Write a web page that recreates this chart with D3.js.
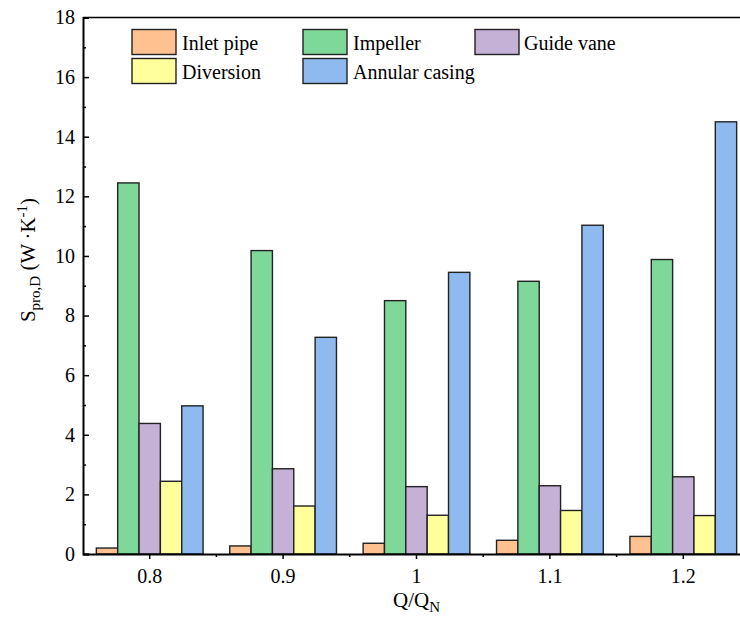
<!DOCTYPE html>
<html>
<head>
<meta charset="utf-8">
<script src="https://cdn.jsdelivr.net/npm/d3@7/dist/d3.min.js"></script>
<style>
  html, body { margin: 0; padding: 0; background: #fff; }
  svg { display: block; font-family: "Liberation Serif", "Times New Roman", serif; }
</style>
</head>
<body>
<svg id="chart" width="740" height="619"></svg>
<script>
// ---- data ----
const categories = ["0.8", "0.9", "1", "1.1", "1.2"];
const seriesNames = ["Inlet pipe", "Impeller", "Guide vane", "Diversion", "Annular casing"];
const inletPipe     = [0.20, 0.27, 0.36, 0.46, 0.59];
const impeller      = [12.45, 10.18, 8.50, 9.15, 9.88];
const guideVane     = [4.38, 2.86, 2.26, 2.29, 2.59];
const diversion     = [2.44, 1.61, 1.30, 1.46, 1.29];
const annularCasing = [4.97, 7.27, 9.45, 11.03, 14.50];
const seriesColors  = ["#FEC18F", "#7DD899", "#C5B0D6", "#FFFF9B", "#8EBAEF"];
const yTicks = [0, 2, 4, 6, 8, 10, 12, 14, 16, 18];
const yMinorTicks = [1, 3, 5, 7, 9, 11, 13, 15, 17];

const seriesValues = [inletPipe, impeller, guideVane, diversion, annularCasing];

// ---- layout ----
const svg = d3.select("#chart");
const pL = 83, pR = 750, pT = 17.5, pB = 554;

const x = d3.scaleBand().domain(categories).range([pL, pR]).paddingInner(0).paddingOuter(0);
const groupW = x.bandwidth() * 0.8;
const xs = d3.scaleBand().domain(seriesNames).range([0, groupW]).padding(0);
const y = d3.scaleLinear().domain([0, 18]).range([pB, pT]);

// bars
const g = svg.append("g");
seriesNames.forEach((name, si) => {
  g.selectAll(null)
    .data(categories.map((c, ci) => ({ c, v: seriesValues[si][ci] })))
    .enter().append("rect")
    .attr("x", d => x(d.c) + (x.bandwidth() - groupW) / 2 + xs(name))
    .attr("y", d => y(d.v))
    .attr("width", xs.bandwidth())
    .attr("height", d => y(0) - y(d.v))
    .attr("fill", seriesColors[si])
    .attr("stroke", "#222")
    .attr("stroke-width", 1.4);
});

// top frame line
svg.append("line")
  .attr("x1", pL).attr("x2", pR).attr("y1", pT).attr("y2", pT)
  .attr("stroke", "#000").attr("stroke-width", 1.6);

// y axis
const yAxis = svg.append("g").attr("transform", `translate(${pL},0)`)
  .call(d3.axisLeft(y).tickValues(yTicks).tickSize(-6).tickPadding(8).tickFormat(d3.format("d")));
yAxis.select(".domain").attr("stroke-width", 2);
yAxis.selectAll(".tick line").attr("stroke-width", 1.5);
yAxis.selectAll("text").attr("font-size", 20).attr("font-family", "Liberation Serif").attr("fill", "#000");

const yMinor = svg.append("g").attr("transform", `translate(${pL},0)`)
  .call(d3.axisLeft(y).tickValues(yMinorTicks).tickSize(-3).tickFormat(""));
yMinor.select(".domain").remove();
yMinor.selectAll(".tick line").attr("stroke-width", 1.5);

// x axis
const xAxis = svg.append("g").attr("transform", `translate(0,${pB})`)
  .call(d3.axisBottom(x).tickSize(5).tickPadding(9.5).tickSizeOuter(0));
xAxis.select(".domain").attr("stroke-width", 2);
xAxis.selectAll(".tick line").attr("stroke-width", 1.5);
xAxis.selectAll("text").attr("font-size", 20).attr("font-family", "Liberation Serif").attr("fill", "#000");

// x minor ticks at band boundaries
svg.append("g").selectAll("line")
  .data(categories.slice(0, -1))
  .enter().append("line")
  .attr("x1", d => x(d) + x.bandwidth()).attr("x2", d => x(d) + x.bandwidth())
  .attr("y1", pB).attr("y2", pB + 3)
  .attr("stroke", "#000").attr("stroke-width", 1.5);

// x axis title
const xt = svg.append("text")
  .attr("x", (pL + pR) / 2).attr("y", 607)
  .attr("text-anchor", "middle").attr("font-size", 21).attr("fill", "#000");
xt.append("tspan").text("Q/Q");
xt.append("tspan").text("N").attr("font-size", 15).attr("dy", 5);

// y axis title
const yt = svg.append("text")
  .attr("transform", "translate(35,260) rotate(-90)")
  .attr("text-anchor", "middle").attr("font-size", 21).attr("fill", "#000");
yt.append("tspan").text("S");
yt.append("tspan").text("pro,D").attr("font-size", 15).attr("dy", 5);
yt.append("tspan").text(" (W\u2009\u00B7K").attr("dy", -5);
yt.append("tspan").text("-1").attr("font-size", 15).attr("dy", -8);
yt.append("tspan").text(")").attr("dy", 8);

// legend
const legendPos = [
  { sx: 132, sy: 29.5, tx: 182 },
  { sx: 303, sy: 29.5, tx: 353 },
  { sx: 475, sy: 29.5, tx: 524 },
  { sx: 132, sy: 58.5, tx: 182 },
  { sx: 303, sy: 58.5, tx: 353 }
];
const lg = svg.append("g");
seriesNames.forEach((name, i) => {
  const p = legendPos[i];
  lg.append("rect").attr("x", p.sx).attr("y", p.sy).attr("width", 44).attr("height", 25)
    .attr("fill", seriesColors[i]).attr("stroke", "#222").attr("stroke-width", 1.4);
  lg.append("text").attr("x", p.tx).attr("y", p.sy + 20).attr("font-size", 20).attr("fill", "#000").text(name);
});
</script>
</body>
</html>
